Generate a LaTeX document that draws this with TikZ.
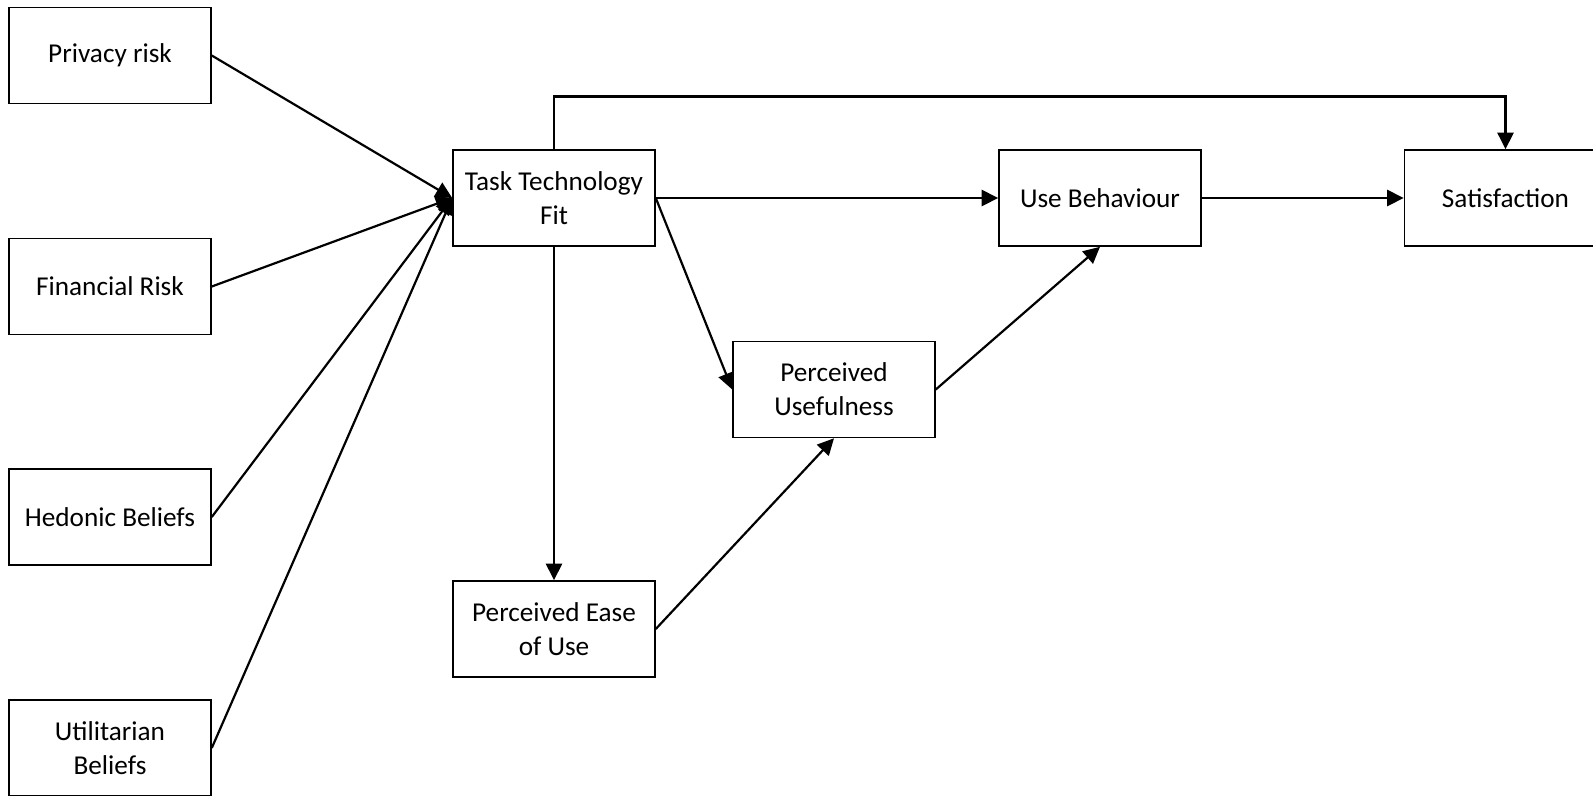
\documentclass[tikz,border=0pt]{standalone}
\usepackage{fontspec}
\setmainfont{Carlito}
\usetikzlibrary{arrows.meta}
\begin{document}
\begin{tikzpicture}[x=0.02cm,y=-0.02cm,
  box/.style={draw,line width=0.9pt,minimum width=4.04cm,minimum height=1.92cm,inner sep=0pt,align=center,font=\fontsize{15.5}{19.5}\selectfont},
  arr/.style={line width=1.25pt,-{Triangle[length=0.33cm,width=0.32cm]}}]
\useasboundingbox (0,0) rectangle (1593,795);
\node[box] (priv) at (110,55.5) {Privacy risk};
\node[box] (fin) at (110,286.5) {Financial Risk};
\node[box] (hed) at (110,517) {Hedonic Beliefs};
\node[box] (util) at (110,748) {Utilitarian\\Beliefs};
\node[box] (ttf) at (554,198) {Task Technology\\Fit};
\node[box] (ub) at (1100,198) {Use Behaviour};
\node[box] (sat) at (1505.5,198) {Satisfaction};
\node[box] (pu) at (834,389.5) {Perceived\\Usefulness};
\node[box] (peou) at (554,629) {Perceived Ease\\of Use};
\coordinate (topc) at (554,96.5);
\draw[arr] (priv.east) -- (ttf.west);
\draw[arr] (fin.east) -- (ttf.west);
\draw[arr] (hed.east) -- (ttf.west);
\draw[arr] (util.east) -- (ttf.west);
\draw[arr] (ttf.north) -- (topc) -| (sat.north);
\draw[arr] (ttf.east) -- (ub.west);
\draw[arr] (ub.east) -- (sat.west);
\draw[arr] (ttf.east) -- (pu.west);
\draw[arr] (ttf.south) -- (peou.north);
\draw[arr] (peou.east) -- (pu.south);
\draw[arr] (pu.east) -- (ub.south);
\end{tikzpicture}
\end{document}
